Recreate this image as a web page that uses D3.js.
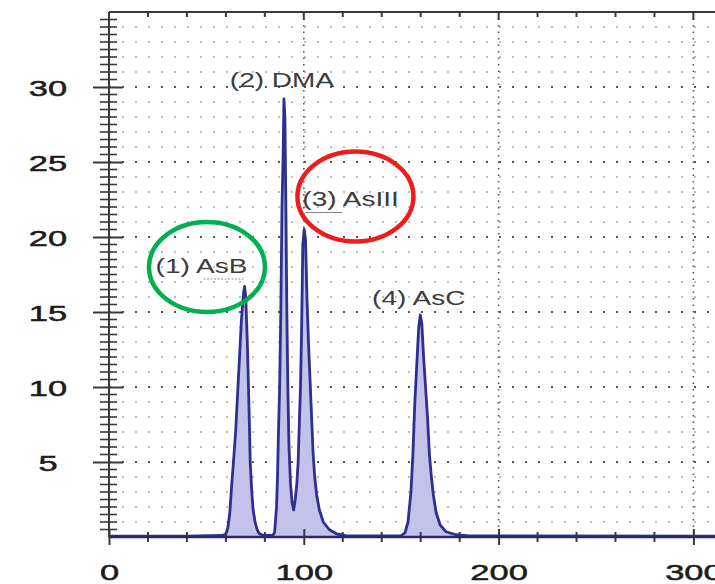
<!DOCTYPE html>
<html>
<head>
<meta charset="utf-8">
<script src="https://cdn.jsdelivr.net/npm/d3@7"></script>
<style>
  body { margin: 0; background: #fff; }
  svg { display: block; }
</style>
</head>
<body>
<div id="chart"></div>
<script>
// retention time (s) and signal
const rt = [0, 40, 58, 60, 61, 62, 63, 64, 65, 66, 67, 68, 69, 69.6, 70.2, 71, 71.8, 72.5, 73.3, 74, 75, 76, 77, 79, 84,
  85, 86, 86.5, 87, 87.6, 88.2, 88.8, 89.4, 89.8, 90.3, 90.8, 91.3, 91.8, 92.4, 93.2, 94, 94.8,
  95.6, 96.4, 97.1, 97.8, 98.3, 98.9, 99.5, 100.2, 100.9, 101.6, 102.4, 103.2, 104, 104.8, 105.6, 106.6, 108, 110, 113, 117, 122,
  150, 152, 153.5, 155, 156, 157, 158, 159, 159.8, 160.6, 161.5, 162.5, 163.5, 164.5, 165.5, 166.5, 168, 170, 173, 178, 185, 320];
const signal = [0.05, 0.05, 0.1, 0.2, 0.6, 1.6, 3.5, 5.2, 7, 9.5, 12, 14.5, 16.2, 16.7, 16, 13, 9, 5, 3, 1.8, 1, 0.5, 0.25, 0.1, 0.1,
  0.3, 2, 4, 7, 10, 15, 22, 25.5, 29.2, 28, 22, 15, 10, 6, 3.5, 2.3, 1.8,
  2.5, 3.5, 5, 8, 10, 14, 19.5, 20.5, 19.8, 16, 13, 10.5, 8, 5.5, 4, 2.8, 1.8, 1, 0.5, 0.2, 0.08,
  0.08, 0.3, 1, 3, 5.5, 9, 11.5, 14, 14.8, 14.2, 12, 10, 8, 5.5, 4, 2.8, 1.6, 0.8, 0.35, 0.15, 0.08, 0.05];

// peak labels: text, position (rt, signal)
const peakNames = ["(1) AsB", "(2) DMA", "(3) AsIII", "(4) AsC"];
const labelRt = [47.5, 88.8, 124, 159];
const labelSig = [17.6, 30.0, 22.1, 15.5];

// highlight rings around two labels
const ringRt = [50.3, 126.5];
const ringSig = [18.0, 22.7];
const ringColor = ["#00b04f", "#ee1c1c"];

const xTicks = [0, 100, 200, 300];
const yTicks = [5, 10, 15, 20, 25, 30];

const W = 715, H = 584;
const margin = { left: 109, top: 12, bottom: 47 };

const x = d3.scaleLinear().domain([0, 320]).range([margin.left, margin.left + 320 * 1.948]);
const y = d3.scaleLinear().domain([0, 35]).range([H - margin.bottom, margin.top]);

const svg = d3.select("#chart").append("svg")
  .attr("width", W).attr("height", H)
  .style("font-family", "'Liberation Sans', Arial, sans-serif");

// dotted grid: light rows every unit, darker rows at major ticks
svg.append("g").selectAll("line")
  .data(d3.range(1, 35))
  .join("line")
  .attr("x1", x(0)).attr("x2", W)
  .attr("y1", d => y(d)).attr("y2", d => y(d))
  .attr("stroke", d => d % 5 === 0 ? "#555" : "#bdbdbd")
  .attr("stroke-width", d => d % 5 === 0 ? 2 : 1.8)
  .attr("stroke-dasharray", "2,11");

svg.append("g").selectAll("line")
  .data(xTicks.filter(d => d > 0))
  .join("line")
  .attr("x1", d => x(d)).attr("x2", d => x(d))
  .attr("y1", y(35)).attr("y2", y(0))
  .attr("stroke", "#555")
  .attr("stroke-width", 1.6)
  .attr("stroke-dasharray", "1.5,5");

// chromatogram trace
const pts = rt.map((t, i) => [t, signal[i]]);
const area = d3.area().x(d => x(d[0])).y0(y(0)).y1(d => y(d[1]));
const line = d3.line().x(d => x(d[0])).y(d => y(d[1]));

svg.append("path").datum(pts)
  .attr("d", area)
  .attr("fill", "#c2c2ea");

svg.append("path").datum(pts)
  .attr("d", line)
  .attr("fill", "none")
  .attr("stroke", "#2f2f8f")
  .attr("stroke-width", 2.8)
  .attr("stroke-linejoin", "round");

// axes frame
const axisCol = "#3a3a3a";
svg.append("line")
  .attr("x1", x(0)).attr("x2", W)
  .attr("y1", y(35)).attr("y2", y(35))
  .attr("stroke", axisCol).attr("stroke-width", 2);
svg.append("line")
  .attr("x1", x(0)).attr("x2", x(0))
  .attr("y1", y(35)).attr("y2", y(0))
  .attr("stroke", axisCol).attr("stroke-width", 2);

// minor ticks
svg.append("g").selectAll("line")
  .data(d3.range(0.5, 35.01, 0.5).filter(d => d % 5 !== 0))
  .join("line")
  .attr("x1", x(0) - 9).attr("x2", x(0) + 8)
  .attr("y1", d => y(d)).attr("y2", d => y(d))
  .attr("stroke", axisCol).attr("stroke-width", 1.6);

svg.append("g").selectAll("line")
  .data(d3.range(20, 321, 20).filter(d => d % 100 !== 0))
  .join("line")
  .attr("x1", d => x(d)).attr("x2", d => x(d))
  .attr("y1", y(35)).attr("y2", y(35) + 5)
  .attr("stroke", axisCol).attr("stroke-width", 2);
svg.append("g").selectAll("line")
  .data(xTicks.filter(d => d > 0))
  .join("line")
  .attr("x1", d => x(d)).attr("x2", d => x(d))
  .attr("y1", y(35)).attr("y2", y(35) + 8)
  .attr("stroke", axisCol).attr("stroke-width", 2);

// left axis
const gy = svg.append("g")
  .attr("transform", `translate(${x(0)},0)`)
  .call(d3.axisLeft(y).tickValues(yTicks).tickSize(16).tickPadding(0));
gy.select(".domain").remove();
gy.selectAll(".tick line")
  .attr("x2", -16).attr("x1", 14)
  .attr("stroke", axisCol).attr("stroke-width", 2);
gy.selectAll(".tick text")
  .attr("text-anchor", "middle")
  .attr("x", 0).attr("dy", "0.36em")
  .attr("transform", "translate(-61,0) scale(1.5,1)")
  .attr("font-size", 23)
  .attr("fill", "#1c1c1c")
  .attr("stroke", "#1c1c1c").attr("stroke-width", 0.5)
  .attr("font-family", "'Liberation Sans', Arial, sans-serif");

// bottom axis
const gx = svg.append("g")
  .attr("transform", `translate(0,${y(0)})`)
  .call(d3.axisBottom(x).tickValues(xTicks).tickSize(8).tickPadding(0));
gx.select(".domain").remove();
gx.selectAll(".tick line")
  .attr("y1", -8).attr("y2", 8)
  .attr("stroke", axisCol).attr("stroke-width", 2);
gx.selectAll(".tick text")
  .attr("y", 43).attr("dy", 0)
  .attr("transform", "scale(1.5,1)")
  .attr("font-size", 23)
  .attr("fill", "#1c1c1c")
  .attr("stroke", "#1c1c1c").attr("stroke-width", 0.5)
  .attr("font-family", "'Liberation Sans', Arial, sans-serif");

svg.append("g").selectAll("line")
  .data(d3.range(20, 321, 20).filter(d => d % 100 !== 0))
  .join("line")
  .attr("x1", d => x(d)).attr("x2", d => x(d))
  .attr("y1", y(0) - 5).attr("y2", y(0) + 5)
  .attr("stroke", axisCol).attr("stroke-width", 2);

svg.append("line")
  .attr("x1", x(0)).attr("x2", W)
  .attr("y1", y(0)).attr("y2", y(0))
  .attr("stroke", "#2a2a66").attr("stroke-width", 2.6);

// peak labels
const labels = svg.append("g").selectAll("text")
  .data(peakNames)
  .join("text")
  .attr("transform", (d, i) => `translate(${x(labelRt[i])},${y(labelSig[i])}) scale(1.4,1)`)
  .attr("text-anchor", "middle")
  .attr("font-size", 20)
  .attr("fill", "#3c3c3c")
  .text(d => d);

// faint squiggles under the AsB and (3) labels
svg.append("line")
  .attr("x1", x(labelRt[0]) + 2).attr("x2", x(labelRt[0]) + 42)
  .attr("y1", y(labelSig[0]) + 6).attr("y2", y(labelSig[0]) + 6)
  .attr("stroke", "#888").attr("stroke-width", 1.2).attr("stroke-dasharray", "2,1.5");
svg.append("line")
  .attr("x1", x(labelRt[2]) - 45).attr("x2", x(labelRt[2]) - 8)
  .attr("y1", y(labelSig[2]) + 7).attr("y2", y(labelSig[2]) + 7)
  .attr("stroke", "#888").attr("stroke-width", 1.2);

// rings
svg.append("g").selectAll("ellipse")
  .data(ringRt)
  .join("ellipse")
  .attr("cx", d => x(d))
  .attr("cy", (d, i) => y(ringSig[i]))
  .attr("rx", 58).attr("ry", 45)
  .attr("fill", "none")
  .attr("stroke", (d, i) => ringColor[i])
  .attr("stroke-width", 4.5);
</script>
</body>
</html>
